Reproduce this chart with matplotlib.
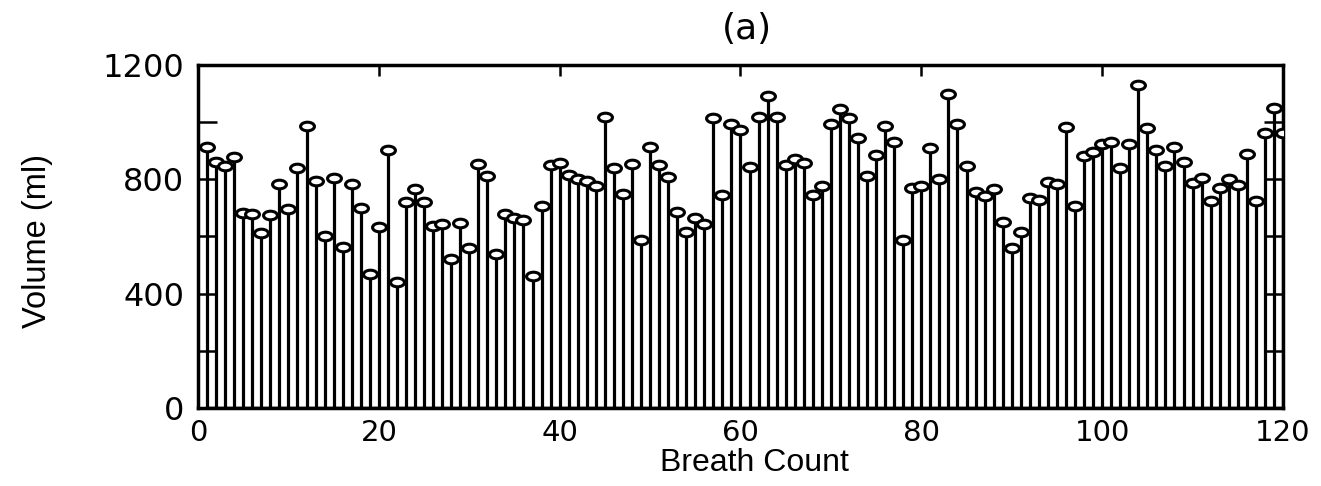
import numpy as np
import matplotlib
matplotlib.use("Agg")
import matplotlib.pyplot as plt
from matplotlib.path import Path
from matplotlib.transforms import Affine2D

# breath-by-breath tidal volume (ml), breaths 1..120
breath = np.arange(1, 121)
volume = [914, 862, 847, 877, 681, 679, 611, 675, 783, 695,
          839, 987, 794, 600, 804, 562, 784, 701, 468, 634,
          903, 442, 720, 765, 720, 637, 644, 521, 648, 559,
          854, 813, 537, 678, 664, 656, 463, 708, 850, 858,
          815, 800, 794, 777, 1019, 841, 748, 854, 588, 914,
          850, 809, 687, 617, 666, 643, 1014, 745, 994, 973,
          842, 1019, 1092, 1019, 850, 871, 856, 745, 775, 994,
          1045, 1014, 944, 812, 885, 987, 930, 586, 769, 778,
          909, 800, 1099, 994, 848, 754, 743, 765, 650, 561,
          615, 736, 728, 790, 784, 984, 707, 883, 897, 924,
          932, 839, 923, 1130, 981, 903, 848, 912, 860, 786,
          804, 724, 771, 801, 780, 888, 725, 963, 1051, 963]

xticks = [0, 20, 40, 60, 80, 100, 120]
yticks = [0, 200, 400, 600, 800, 1000, 1200]
ylabels = ['0', '', '400', '', '800', '', '1200']

fig = plt.figure(figsize=(13.21, 4.86), dpi=100)
ax = fig.add_axes([0.1499, 0.1605, 0.8213, 0.7058])

# flattened open circle like the scanned figure
ellipse = Path.unit_circle().transformed(Affine2D().scale(1.0, 0.62))

ml, sl, bl = ax.stem(breath, volume, linefmt='k-', basefmt='k-')
plt.setp(sl, linewidth=2.3)
plt.setp(bl, linewidth=2.5)
plt.setp(ml, marker=ellipse, markersize=10, markerfacecolor='white',
         markeredgecolor='black', markeredgewidth=2.2, zorder=3)

ax.set_xlim(0, 120)
ax.set_ylim(0, 1200)
ax.set_xticks(xticks)
ax.set_yticks(yticks)
ax.set_yticklabels(ylabels)

for s in ax.spines.values():
    s.set_linewidth(2.5)

ax.tick_params(axis='both', direction='in', top=True, right=True,
               width=1.8, labelsize=23, labelfontfamily='DejaVu Sans')
ax.tick_params(axis='x', labelsize=21, length=8, pad=8)
ax.tick_params(axis='y', length=14, pad=10)

ax.set_xlabel('Breath Count', fontsize=23, family='Liberation Sans')
ax.xaxis.set_label_coords(0.5124, -0.118)
ax.set_ylabel('Volume (ml)', fontsize=23.5, family='Liberation Sans')
ax.yaxis.set_label_coords(-0.1336, 0.4854)
ax.set_title('(a)', fontsize=26, family='DejaVu Sans', pad=19, x=0.506)

fig.savefig('out.png', dpi=100)
